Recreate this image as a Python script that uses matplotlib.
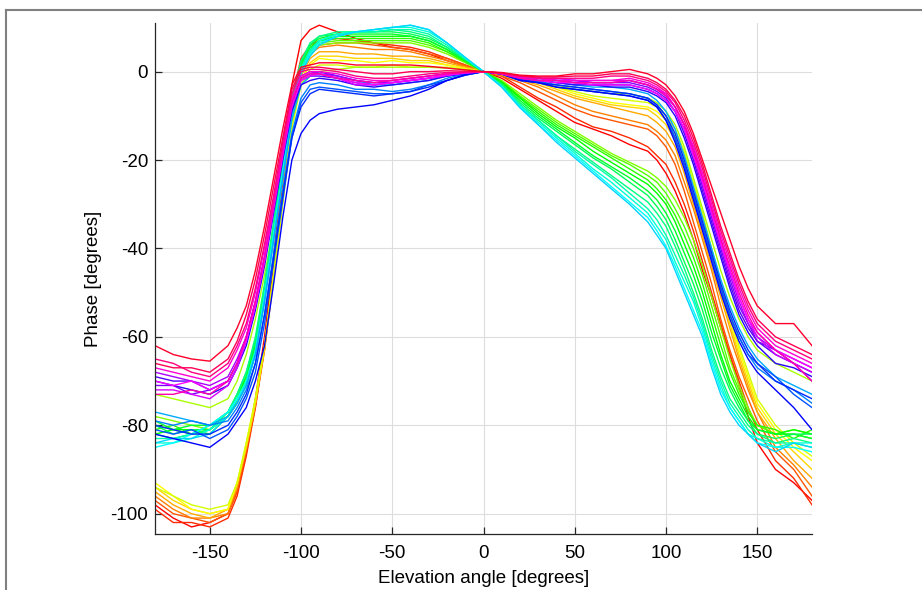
import colorsys
import matplotlib
matplotlib.use('Agg')
import matplotlib.pyplot as plt
from matplotlib.lines import Line2D

plt.rcParams['font.family'] = ['Liberation Sans', 'DejaVu Sans']
plt.rcParams['axes.unicode_minus'] = False

# elevation grid the curves were read at (degrees)
elevation = [-180, -170, -160, -150, -140, -135, -130, -125, -120, -115, -110, -105,
             -100, -95, -90, -80, -70, -60, -50, -40, -30, -20, -10, 0,
             10, 20, 30, 40, 50, 60, 70, 80, 90, 95, 100, 105,
             110, 115, 120, 125, 130, 135, 140, 145, 150, 160, 170, 180]

# phase curves [degrees], grouped by colour (red -> yellow)
warm_phase = [
    [-98, -101, -103, -102, -100, -95, -86, -74, -60, -42, -22, -3, 7, 9.5, 10.5, 9, 7.5, 6.5, 5.5, 5, 4, 2.5, 1.2, 0,
     -1.5, -4, -6.5, -9, -11.5, -13, -14.5, -16.5, -18, -20, -23, -27, -32, -38, -45, -51, -58, -64, -71, -78, -84, -90, -93, -97],
    [-99, -102, -102, -103, -101, -96, -87, -76, -62, -44, -25, -6, 3, 6, 7, 7.5, 7, 6.5, 6, 5.5, 4.5, 3, 1.5, 0,
     -1, -3.5, -6, -8, -10.5, -12.5, -13.5, -15, -17, -19, -21, -25, -30, -36, -43, -50, -57, -64, -70, -76, -81, -88, -92, -98],
    [-97, -100, -101, -102, -100, -95, -86, -76, -63, -46, -28, -9, 1, 4.5, 6, 6.5, 6.5, 6, 5.5, 5, 4, 3, 1.5, 0,
     -1, -2.5, -4.5, -6.5, -8.5, -10, -11, -12, -13, -14.5, -17, -21, -27, -34, -41, -48, -56, -63, -69, -74, -79, -86, -90, -96],
    [-96, -99, -101, -101, -100, -94, -85, -75, -63, -46, -28, -10, 0, 4, 5.5, 6, 5.5, 5, 5, 4.5, 3.5, 2.5, 1.2, 0,
     -0.8, -2, -3.5, -5.5, -7.5, -9, -10, -11, -12, -13.5, -15.5, -19, -25, -31, -38, -45, -53, -60, -66, -72, -77, -85, -89, -94],
    [-95, -98, -100, -101, -99, -94, -85, -75, -63, -47, -29, -11, -1, 3, 4.5, 4.5, 4, 4, 3.5, 3.5, 3, 2, 1, 0,
     -0.7, -1.8, -3, -4.5, -6, -7, -8, -9, -10, -11.5, -13.5, -17, -23, -30, -37, -44, -51, -58, -65, -71, -77, -83, -88, -92],
    [-94, -97, -99, -100, -99, -93, -85, -75, -62, -46, -29, -12, -2, 2, 3.5, 3.5, 3, 3, 3, 2.5, 2.5, 1.5, 0.8, 0,
     -0.6, -1.5, -2.5, -4, -5.5, -6.5, -7.5, -8, -8.5, -10, -12, -15.5, -21, -28, -35, -42, -50, -57, -64, -70, -76, -82, -86, -90],
    [-93, -96, -99, -100, -99, -93, -84, -74, -62, -46, -29, -12, -2, 1.5, 3, 2.5, 2.5, 2, 2.5, 2, 2, 1.5, 0.7, 0,
     -0.5, -1.2, -2, -3.5, -5, -6, -7, -7.5, -8, -9, -11, -14, -19, -26, -33, -41, -49, -56, -63, -69, -75, -81, -85, -88],
    [-94, -96, -98, -99, -98, -93, -84, -74, -62, -46, -30, -13, -3, 0.5, 1.5, 1.5, 1, 1, 1.5, 1, 1, 1, 0.5, 0,
     -0.5, -1.5, -2.5, -3.5, -4.5, -5.5, -6, -6.5, -7, -8, -10, -13, -18, -25, -32, -40, -48, -55, -62, -68, -74, -80, -84, -87],
]

lime_phase = [
    [-73, -74, -75, -76, -74, -70, -64, -56, -46, -35, -23, -11, -3, -1, 0, 0.5, 1, 1, 1, 1, 1, 0.8, 0.4, 0,
     -0.5, -1.5, -2.5, -3, -4, -4.5, -5, -5, -6, -7, -9, -12, -17, -24, -31, -38, -45, -51, -56, -60, -63, -66, -68, -70],
]

green_phase = [
    [-78, -79, -80, -81, -78, -75, -71, -64, -52, -38, -24, -10, 0, 4, 6, 6.5, 6.5, 6.5, 6.5, 6.5, 5.5, 4, 2, 0,
     -2, -5, -8, -11, -13.5, -16, -18.5, -20.5, -22.5, -24, -26, -29, -33, -38, -44, -51, -58, -65, -71, -76, -80, -82, -81, -82],
    [-80, -81, -82, -80, -78, -75, -70, -63, -51, -37, -23, -9, 0.5, 4.5, 6.5, 7, 7, 7, 7, 7, 6, 4.5, 2.2, 0,
     -2.2, -5.5, -8.5, -11.5, -14, -16.5, -19, -21, -23.5, -25, -27.5, -31, -35, -40, -46, -53, -60, -67, -72, -77, -80, -82, -82, -83],
    [-81, -80, -82, -81, -78, -74, -70, -62, -50, -36, -22, -8, 1, 5, 7, 7.5, 7.5, 7.5, 7.5, 7.5, 6.5, 4.5, 2.3, 0,
     -2.3, -5.8, -9, -12, -14.5, -17, -19.5, -22, -24.5, -26.5, -29, -32.5, -37, -42, -48, -55, -62, -68, -73, -77, -80, -81, -83, -81],
    [-82, -81, -81, -82, -78, -74, -69, -62, -50, -36, -22, -8, 1.5, 5.5, 7, 8, 8, 8, 8, 8, 7, 5, 2.5, 0,
     -2.5, -6, -9.5, -12.5, -15, -18, -20.5, -23, -25.5, -27.5, -30, -34, -39, -44, -50, -57, -64, -70, -74, -78, -81, -82, -81, -82],
    [-79, -81, -80, -80, -77, -73, -69, -61, -49, -35, -21, -7, 2, 6, 7.5, 8.5, 8.5, 8.5, 8.5, 8, 7, 5, 2.5, 0,
     -2.7, -6.5, -10, -13, -16, -19, -21.5, -24, -27, -29, -32, -36, -41, -46, -52, -59, -65, -71, -75, -79, -81, -82, -82, -83],
    [-80, -82, -81, -81, -77, -73, -68, -61, -49, -35, -21, -7, 2, 6, 8, 8.5, 9, 9, 9, 8.5, 7.5, 5.5, 2.7, 0,
     -2.8, -7, -10.5, -13.5, -16.5, -19.5, -22, -25, -28, -30.5, -33.5, -38, -43, -48, -54, -61, -67, -72, -76, -79, -82, -83, -82, -82],
    [-82, -83, -82, -81, -77, -73, -68, -60, -48, -34, -20, -6, 2.5, 6.5, 8, 9, 9, 9, 9.5, 9, 8, 5.5, 2.8, 0,
     -3, -7.5, -11, -14.5, -17.5, -20.5, -23.5, -26.5, -29.5, -32, -35, -39.5, -44.5, -50, -56, -63, -69, -74, -77, -80, -82, -84, -83, -84],
]

cyan_phase = [
    [-83, -83, -82, -80, -77, -74, -70, -63, -50, -36, -22, -8, 1, 5, 7, 8.5, 9, 9, 9.5, 9.5, 8.5, 6, 3, 0,
     -3.2, -7.5, -11, -14.5, -18, -21, -24, -27.5, -31, -33.5, -37, -41.5, -46, -51, -57, -64, -70, -75, -78, -81, -83, -84, -84, -85],
    [-84, -84, -83, -81, -78, -74, -70, -63, -51, -37, -23, -9, 0.5, 4.5, 7, 8.5, 9, 9.5, 10, 10, 9, 6.5, 3, 0,
     -3.3, -7.8, -11.5, -15, -18.5, -22, -25, -28.5, -32, -35, -38, -43, -47.5, -52, -58, -65, -71, -76, -79, -82, -83, -85, -84, -84],
    [-85, -84, -82, -80, -77, -74, -71, -64, -51, -37, -23, -9, 0, 4, 6.5, 8, 9, 9.5, 10, 10.5, 9.5, 6.5, 3.2, 0,
     -3.5, -8, -12, -15.5, -19, -22.5, -26, -29.5, -33, -36, -39.5, -44, -49, -54, -59, -66, -72, -76, -79, -82, -84, -85, -85, -86],
    [-84, -83, -83, -82, -78, -75, -71, -64, -52, -38, -24, -10, -0.5, 3.5, 6, 8, 9, 9.5, 10, 10.5, 9.5, 6.5, 3.2, 0,
     -3.5, -8.2, -12, -16, -19.5, -23, -26.5, -30, -34, -37, -40, -45, -50, -55, -60, -67, -73, -77, -80, -82, -84, -86, -84, -85],
]

blue_phase = [
    [-77, -78, -79, -80, -78, -75, -71, -64, -52, -38, -24, -11, -3, -1, 0, -1, -2, -3, -3, -2.5, -2, -1, -0.5, 0,
     -0.5, -1.5, -2, -2.5, -3, -3.5, -3.5, -4, -5, -6.5, -9, -13, -19, -26, -33, -40, -47, -53, -58, -62, -65, -69, -71, -73],
    [-79, -80, -79, -80, -79, -76, -72, -66, -55, -41, -27, -14, -6, -3, -2.5, -3, -4, -4, -4.5, -4, -3, -1.5, -0.5, 0,
     -0.5, -1.8, -2.2, -3, -3.5, -4, -4.5, -5, -6, -7.5, -10, -15, -21, -28, -35, -42, -49, -55, -60, -64, -67, -70, -72, -75],
    [-81, -82, -81, -83, -81, -78, -74, -68, -57, -43, -29, -15, -7, -4, -3.5, -4, -4.5, -5, -5, -4.5, -3, -2, -0.8, 0,
     -0.6, -2, -2.5, -3.5, -4, -4.5, -5, -5.5, -6.5, -8, -11, -15, -21, -28, -35, -42, -49, -55, -60, -64, -66, -69, -73, -76],
    [-80, -81, -82, -82, -80, -77, -73, -66, -55, -42, -28, -15, -8, -5, -4, -4.5, -5, -5.5, -5, -4.5, -3.5, -2, -0.8, 0,
     -0.5, -1.8, -2.5, -3, -3.5, -4, -4.5, -5, -6, -7.5, -10, -14, -20, -27, -34, -41, -48, -54, -59, -63, -66, -70, -72, -74],
    [-82, -83, -84, -85, -82, -79, -76, -70, -62, -48, -33, -20, -14, -11, -9.5, -8.5, -8, -7.5, -6.5, -5.5, -4, -2, -0.7, 0,
     -0.5, -2, -2.5, -3.5, -4, -4.5, -5, -5.5, -6.5, -8, -11, -16, -22, -29, -36, -43, -50, -56, -61, -65, -68, -72, -76, -81],
]

violet_phase = [
    [-70, -71, -72, -73, -71, -67, -62, -54, -44, -32, -20, -9, -3, -2, -1.5, -2, -3, -3.5, -3, -2.5, -2, -1, -0.4, 0,
     -0.5, -1.5, -2, -2.5, -3, -3, -3.5, -3.5, -4.5, -5.5, -7, -10, -15, -21, -28, -35, -42, -49, -55, -59, -62, -66, -67, -69],
    [-69, -70, -70, -72, -70, -66, -61, -53, -43, -31, -19, -8, -2, -1, -1, -1.5, -2.5, -3, -2.5, -2, -1.5, -1, -0.3, 0,
     -0.5, -1.5, -2, -2, -2.5, -3, -3, -3, -4, -5, -6.5, -9, -14, -20, -27, -34, -41, -48, -54, -58, -61, -64, -66, -68],
    [-71, -71, -73, -72, -70, -66, -60, -52, -42, -30, -18, -7, -1.5, -0.5, 0, -1, -2, -2.5, -2.5, -2, -1.5, -0.8, -0.3, 0,
     -0.4, -1.2, -1.5, -2, -2, -2.5, -2.5, -2.5, -3.5, -4.5, -6, -9, -13, -19, -26, -33, -40, -47, -53, -57, -61, -63, -65, -67],
    [-68, -69, -70, -71, -69, -65, -60, -52, -42, -30, -18, -7, -1, 0, -0.5, -1, -2, -2.5, -2, -1.5, -1, -0.5, -0.2, 0,
     -0.4, -1.2, -1.5, -2, -2, -2.5, -2.5, -2, -3, -4, -5.5, -8, -12, -18, -25, -32, -39, -46, -52, -57, -60, -63, -66, -70],
    [-72, -72, -73, -74, -71, -67, -61, -53, -42, -30, -18, -7, -1.5, -0.5, -0.5, -1.5, -3, -3, -2.5, -2, -1.5, -0.8, -0.3, 0,
     -0.4, -1, -1.5, -1.5, -2, -2, -2, -2, -3, -4, -5, -8, -12, -17, -24, -31, -38, -45, -51, -56, -60, -64, -66, -68],
]

magenta_phase = [
    [-70, -71, -70, -72, -70, -66, -61, -53, -43, -31, -19, -8, -2, -1, -0.5, -1.5, -2.5, -3, -2.5, -2, -1.5, -0.8, -0.3, 0,
     -0.5, -1.5, -2, -2.5, -2.5, -3, -3, -3, -4, -5, -6.5, -9, -13, -19, -25, -32, -39, -45, -51, -56, -59, -63, -65, -67],
    [-67, -68, -69, -70, -67, -63, -58, -50, -40, -29, -17, -6, -1, 0, 0, -0.5, -1.5, -2, -2, -1.5, -1, -0.5, -0.2, 0,
     -0.4, -1.2, -1.5, -2, -2, -2, -2, -1.5, -2.5, -3.5, -5, -8, -12, -17, -23, -30, -37, -43, -49, -54, -58, -62, -64, -66],
    [-73, -73, -72, -73, -70, -66, -60, -52, -42, -30, -18, -7, -1.5, -0.5, -0.5, -1.5, -2, -2.5, -2, -1.5, -1, -0.5, -0.2, 0,
     -0.5, -1.5, -2, -2, -2.5, -2.5, -2.5, -2, -3, -4, -5.5, -8, -12, -18, -24, -31, -38, -44, -50, -55, -59, -63, -66, -70],
    [-65, -66, -68, -69, -66, -62, -57, -49, -39, -28, -16, -5, 0, 0.5, 0.5, 0, -1, -1.5, -1.5, -1, -0.5, -0.2, -0.1, 0,
     -0.3, -1, -1.5, -1.5, -1.5, -1.5, -1, -1, -2, -3, -4.5, -7, -11, -16, -22, -29, -36, -42, -48, -53, -57, -61, -63, -65],
    [-66, -67, -67, -68, -65, -61, -55, -47, -37, -26, -15, -4, 0.5, 1, 1, 0.5, 0, -0.5, -0.5, 0, 0, 0.2, 0.1, 0,
     -0.3, -1, -1.2, -1.2, -1, -1, -0.5, -0.5, -1.5, -2.5, -4, -6.5, -10, -15, -21, -28, -35, -41, -47, -52, -56, -60, -62, -64],
    [-62, -64, -65, -65.5, -62, -58, -53, -45, -35, -24, -13, -3, 1, 1.5, 2, 2, 1.5, 1.5, 1.5, 1.5, 1.2, 0.8, 0.4, 0,
     -0.2, -0.8, -1, -1, -0.5, -0.5, 0, 0.5, -0.5, -1.5, -3, -5.5, -9, -14, -20, -26, -32, -38, -44, -49, -53, -57, -57, -62],
]

curves = warm_phase + lime_phase + green_phase + cyan_phase + blue_phase + violet_phase + magenta_phase
n = len(curves)

fig = plt.figure(figsize=(9.22, 5.90), dpi=100)
ax = fig.add_axes([155 / 922, 56 / 590, 657 / 922, 511 / 590])

for k, phase in enumerate(curves):
    col = colorsys.hsv_to_rgb(k / n, 1.0, 1.0)
    ax.plot(elevation, phase, color=col, lw=1.0)

ax.set_xlim(-180, 180)
ax.set_ylim(-104.6, 11)
ax.set_xticks([-150, -100, -50, 0, 50, 100, 150])
ax.set_yticks([-100, -80, -60, -40, -20, 0])
ax.grid(True, color='#dddddd', lw=0.8)
ax.set_axisbelow(True)

for side in ['top', 'right']:
    ax.spines[side].set_visible(False)
for side in ['left', 'bottom']:
    ax.spines[side].set_color('#262626')
    ax.spines[side].set_linewidth(0.9)

ax.tick_params(direction='in', length=5, width=0.9, color='#262626', labelsize=13.5)
ax.tick_params(axis='x', pad=8)
ax.tick_params(axis='y', pad=5)
ax.set_xlabel('Elevation angle [degrees]', fontsize=13.5, labelpad=6)
ax.set_ylabel('Phase [degrees]', fontsize=13.5, labelpad=6)

# outer frame of the figure window
fx = 6 / 922
fy = 1 - 10 / 590
fig.add_artist(Line2D([fx, fx], [0, fy], transform=fig.transFigure, color='#808080', lw=1.5))
fig.add_artist(Line2D([fx, 1], [fy, fy], transform=fig.transFigure, color='#808080', lw=1.5))

fig.savefig('out.png', dpi=100)
